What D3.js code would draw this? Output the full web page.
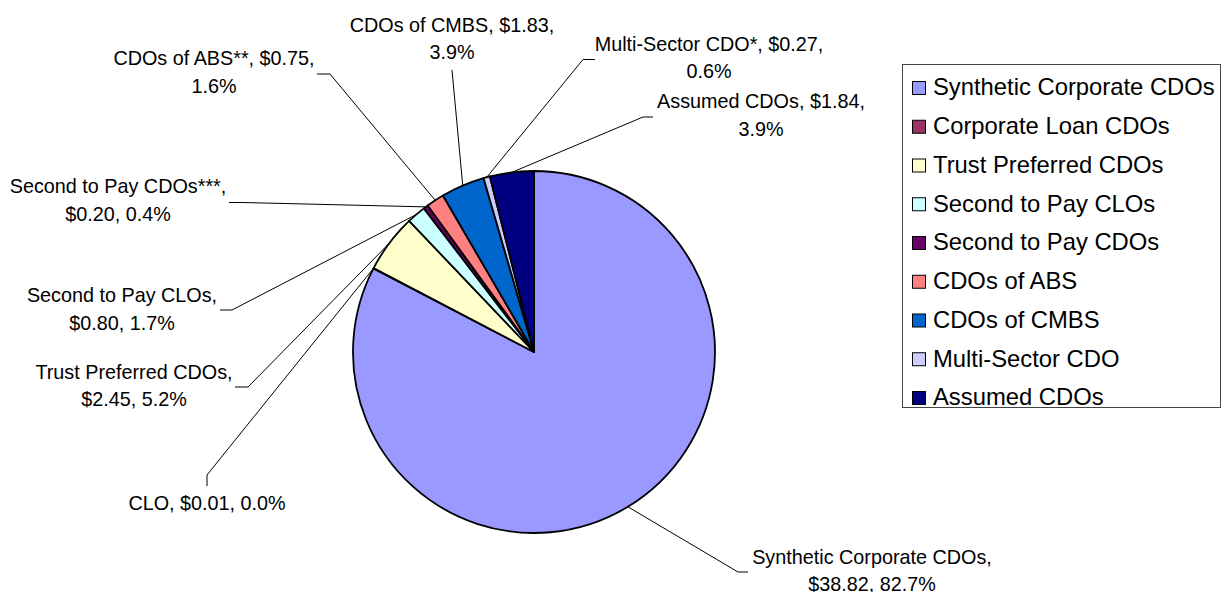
<!DOCTYPE html>
<html>
<head>
<meta charset="utf-8">
<script src="https://cdn.jsdelivr.net/npm/d3@7"></script>
<style>
  body { margin: 0; background: #fff; }
  svg { display: block; font-family: 'Liberation Sans', Arial, sans-serif; }
</style>
</head>
<body>
<svg id="chart" width="1222" height="592"></svg>
<script>
// categories in the order Excel draws them (clockwise from 12 o'clock)
const categories = ['Synthetic Corporate CDOs', 'Corporate Loan CDOs', 'Trust Preferred CDOs',
  'Second to Pay CLOs', 'Second to Pay CDOs', 'CDOs of ABS', 'CDOs of CMBS',
  'Multi-Sector CDO', 'Assumed CDOs']
// names used in the data labels
const labelNames = ['Synthetic Corporate CDOs', 'CLO', 'Trust Preferred CDOs',
  'Second to Pay CLOs', 'Second to Pay CDOs***', 'CDOs of ABS**', 'CDOs of CMBS',
  'Multi-Sector CDO*', 'Assumed CDOs']
// $ billions
const values = [38.82, 0.01, 2.45, 0.80, 0.20, 0.75, 1.83, 0.27, 1.84]
// percentages as printed on the labels
const shares = [82.7, 0.0, 5.2, 1.7, 0.4, 1.6, 3.9, 0.6, 3.9]
const colors = ['#9999FF', '#993366', '#FFFFCC', '#CCFFFF', '#660066',
  '#FF8080', '#0066CC', '#CCCCFF', '#000080']

// label placement: centre x, first baseline, how many comma parts on line 1,
// elbow of the leader line and the end of its short tick
const labelLayout = [
  { x: 872, y: 563.5, split: 1, elbow: [738, 572], tick: [748, 572] },
  { x: 207, y: 509.5, split: 3, elbow: [207, 475], tick: [207, 486] },
  { x: 134, y: 378.5, split: 1, elbow: [248, 387], tick: [235, 387] },
  { x: 122, y: 302, split: 1, elbow: [232, 310], tick: [220, 310] },
  { x: 118, y: 193, split: 1, elbow: [242, 202.5], tick: [229, 202.5] },
  { x: 214, y: 65, split: 2, elbow: [330, 74], tick: [317, 74] },
  { x: 452, y: 31.5, split: 2, elbow: [452, 70], tick: [452, 70] },
  { x: 709, y: 50.5, split: 2, elbow: [583, 59.5], tick: [595, 59.5] },
  { x: 761, y: 108, split: 2, elbow: [643, 117], tick: [653, 117] }
]

const svg = d3.select('#chart')
const cx = 534, cy = 352, r = 181
const lineH = 27.8

const pie = d3.pie().sort(null).value(d => d)
const arcs = pie(values)
const arc = d3.arc().innerRadius(0).outerRadius(r)
const rim = d3.arc().innerRadius(r).outerRadius(r)

const g = svg.append('g').attr('transform', 'translate(' + cx + ',' + cy + ')')

g.selectAll('path.slice')
  .data(arcs)
  .enter().append('path')
  .attr('class', 'slice')
  .attr('d', arc)
  .attr('fill', (d, i) => colors[i])
  .attr('stroke', '#000')
  .attr('stroke-width', 1.8)
  .attr('stroke-linejoin', 'round')

// leader lines
svg.selectAll('path.leader')
  .data(arcs)
  .enter().append('path')
  .attr('class', 'leader')
  .attr('fill', 'none')
  .attr('stroke', '#000')
  .attr('stroke-width', 1)
  .attr('d', (d, i) => {
    const c = rim.centroid(d)
    const L = labelLayout[i]
    return d3.line()([[cx + c[0], cy + c[1]], L.elbow, L.tick])
  })

// data labels
const labels = svg.selectAll('text.lbl')
  .data(arcs)
  .enter().append('text')
  .attr('class', 'lbl')
  .attr('font-size', 19.8)
  .attr('fill', '#000')
  .attr('text-anchor', 'middle')

labels.each(function(d, i) {
  const parts = [labelNames[i], '$' + values[i].toFixed(2), shares[i].toFixed(1) + '%']
  const L = labelLayout[i]
  const line1 = parts.slice(0, L.split).join(', ') + (L.split < 3 ? ',' : '')
  const line2 = parts.slice(L.split).join(', ')
  const t = d3.select(this)
  t.append('tspan').attr('x', L.x).attr('y', L.y).text(line1)
  if (line2) t.append('tspan').attr('x', L.x).attr('y', L.y + lineH).text(line2)
})

// legend
const legend = svg.append('g')
legend.append('rect')
  .attr('x', 902.5).attr('y', 64.5)
  .attr('width', 318).attr('height', 343)
  .attr('fill', '#fff')
  .attr('stroke', '#444')
  .attr('stroke-width', 1)

const ly = d3.scalePoint().domain(categories).range([87.5, 397.5])

const item = legend.selectAll('g.item')
  .data(categories)
  .enter().append('g')
  .attr('class', 'item')
  .attr('transform', d => 'translate(0,' + ly(d) + ')')

item.append('rect')
  .attr('x', 912.5).attr('y', -6)
  .attr('width', 13).attr('height', 13)
  .attr('fill', (d, i) => colors[i])
  .attr('stroke', '#000')
  .attr('stroke-width', 1)

item.append('text')
  .attr('x', 933)
  .attr('y', 7.8)
  .attr('font-size', 23.8)
  .attr('fill', '#000')
  .text(d => d)
</script>
</body>
</html>
